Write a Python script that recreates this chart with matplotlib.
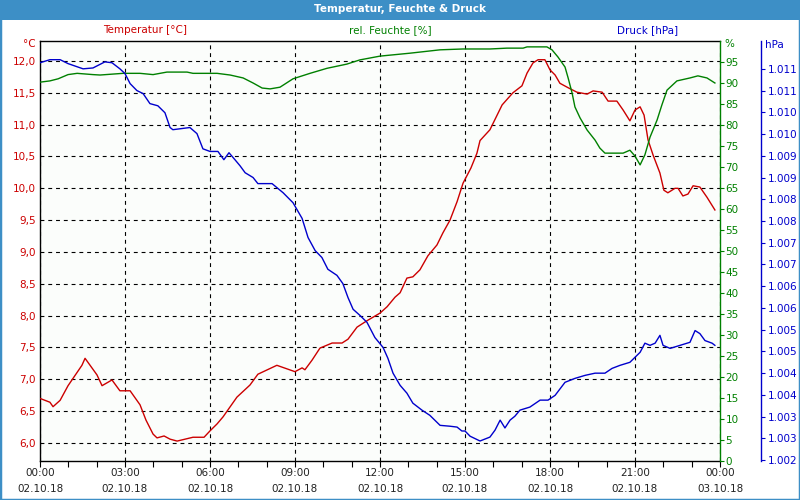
import math
import matplotlib
matplotlib.use("Agg")
import matplotlib.pyplot as plt
from matplotlib.patches import Rectangle
from matplotlib.ticker import FixedLocator, FuncFormatter, MultipleLocator

# ---------------- data ----------------
temp_hours = [0.00, 0.35, 0.46, 0.71, 0.99, 1.48, 1.59, 2.01, 2.19, 2.54, 2.82, 3.18, 3.53, 3.74,
              3.99, 4.13, 4.38, 4.59, 4.84, 5.40, 5.79, 6.00, 6.25, 6.46, 6.95, 7.41, 7.69, 8.12,
              8.36, 9.00, 9.25, 9.35, 9.60, 9.88, 10.31, 10.66, 10.87, 11.19, 11.54, 12.00, 12.25,
              12.53, 12.71, 12.95, 13.16, 13.41, 13.69, 14.01, 14.22, 14.47, 14.72, 14.93, 15.21,
              15.42, 15.53, 15.88, 16.31, 16.69, 17.01, 17.19, 17.40, 17.58, 17.82, 18.00, 18.18,
              18.35, 18.64, 18.95, 19.31, 19.52, 19.84, 20.05, 20.36, 20.58, 20.82, 21.00, 21.18,
              21.32, 21.46, 21.64, 21.88, 22.02, 22.16, 22.41, 22.52, 22.69, 22.87, 23.05, 23.29,
              23.54, 23.82]
temperature = [6.70, 6.64, 6.57, 6.67, 6.90, 7.22, 7.33, 7.07, 6.90, 6.99, 6.82, 6.82, 6.60, 6.36,
               6.14, 6.08, 6.11, 6.06, 6.03, 6.09, 6.09, 6.19, 6.30, 6.41, 6.72, 6.91, 7.08, 7.17,
               7.22, 7.12, 7.18, 7.15, 7.30, 7.49, 7.57, 7.57, 7.63, 7.82, 7.92, 8.04, 8.14,
               8.29, 8.36, 8.59, 8.61, 8.72, 8.94, 9.11, 9.30, 9.50, 9.79, 10.08, 10.32,
               10.55, 10.75, 10.92, 11.31, 11.50, 11.61, 11.81, 11.97, 12.02, 12.02, 11.86, 11.78,
               11.65, 11.58, 11.51, 11.48, 11.53, 11.51, 11.37, 11.37, 11.23, 11.06, 11.23, 11.28,
               11.15, 10.76, 10.52, 10.24, 9.97, 9.93, 10.00, 10.00, 9.88, 9.91, 10.04, 10.02,
               9.86, 9.66]

hum_hours = [0.00, 0.35, 0.64, 0.99, 1.31, 1.87, 2.12, 2.93, 3.53, 3.99, 4.48, 5.19, 5.40, 6.25,
             6.71, 7.17, 7.52, 7.84, 8.12, 8.47, 8.93, 9.53, 10.13, 10.83, 11.29, 12.00, 13.06,
             14.12, 14.93, 15.88, 16.48, 17.05, 17.19, 17.89, 18.07, 18.28, 18.53, 18.64, 18.78,
             18.88, 19.06, 19.31, 19.59, 19.76, 19.94, 20.22, 20.58, 20.82, 21.00, 21.18, 21.35,
             21.53, 21.78, 21.95, 22.13, 22.48, 22.94, 23.22, 23.54, 23.82]
humidity = [90.2, 90.5, 91.0, 92.0, 92.3, 92.0, 91.9, 92.3, 92.3, 92.0, 92.6, 92.6, 92.3, 92.3,
            91.9, 91.2, 90.0, 88.8, 88.6, 89.0, 91.0, 92.3, 93.5, 94.5, 95.5, 96.4, 97.1,
            97.9, 98.1, 98.1, 98.3, 98.3, 98.6, 98.6, 97.9, 96.2, 93.8, 91.2, 87.6,
            84.3, 81.7, 78.8, 76.4, 74.5, 73.3, 73.3, 73.3, 74.0, 72.6, 70.5, 72.9,
            77.1, 81.2, 84.8, 88.3, 90.5, 91.2, 91.7, 91.2, 90.0]

pres_hours = [0.00, 0.35, 0.71, 0.99, 1.52, 1.87, 2.29, 2.54, 2.82, 3.00, 3.18, 3.42, 3.64, 3.88,
              4.16, 4.41, 4.59, 4.69, 5.29, 5.54, 5.75, 6.00, 6.28, 6.49, 6.67, 6.88, 7.06, 7.24,
              7.52, 7.69, 8.19, 8.58, 8.93, 9.25, 9.46, 9.71, 9.95, 10.16, 10.48, 10.69, 10.87,
              11.05, 11.29, 11.54, 11.82, 12.11, 12.28, 12.46, 12.71, 12.95, 13.16, 13.48, 13.76,
              14.12, 14.47, 14.72, 14.89, 15.00, 15.18, 15.53, 15.88, 16.06, 16.24, 16.41, 16.59,
              16.76, 16.94, 17.29, 17.65, 17.93, 18.18, 18.53, 18.88, 19.24, 19.59, 19.94, 20.19,
              20.47, 20.82, 21.18, 21.35, 21.53, 21.71, 21.88, 21.99, 22.24, 22.59, 22.94, 23.12,
              23.29, 23.47, 23.72, 23.82]
pressure = [1011.14, 1011.21, 1011.21, 1011.12, 1011.00, 1011.02, 1011.16, 1011.14, 1011.00,
            1010.89, 1010.66, 1010.50, 1010.43, 1010.20, 1010.15, 1009.99, 1009.65, 1009.60,
            1009.65, 1009.51, 1009.16, 1009.10, 1009.10, 1008.91, 1009.07, 1008.91, 1008.77,
            1008.61, 1008.50, 1008.36, 1008.36, 1008.15, 1007.92, 1007.56, 1007.12, 1006.82,
            1006.66, 1006.39, 1006.25, 1006.06, 1005.74, 1005.47, 1005.33, 1005.17, 1004.82,
            1004.59, 1004.34, 1004.00, 1003.72, 1003.54, 1003.31, 1003.15, 1003.03, 1002.80,
            1002.78, 1002.76, 1002.67, 1002.67, 1002.55, 1002.44, 1002.53, 1002.69, 1002.92,
            1002.74, 1002.92, 1003.01, 1003.15, 1003.22, 1003.38, 1003.38, 1003.49, 1003.79,
            1003.88, 1003.95, 1004.00, 1004.00, 1004.11, 1004.18, 1004.25, 1004.48, 1004.69,
            1004.64, 1004.69, 1004.87, 1004.64, 1004.57, 1004.64, 1004.71, 1004.98, 1004.91,
            1004.75, 1004.69, 1004.64]

x_tick_hours = [0, 3, 6, 9, 12, 15, 18, 21, 24]
x_tick_labels = ["00:00\n02.10.18", "03:00\n02.10.18", "06:00\n02.10.18", "09:00\n02.10.18",
                 "12:00\n02.10.18", "15:00\n02.10.18", "18:00\n02.10.18", "21:00\n02.10.18",
                 "00:00\n03.10.18"]
temp_ticks = [6.0, 6.5, 7.0, 7.5, 8.0, 8.5, 9.0, 9.5, 10.0, 10.5, 11.0, 11.5, 12.0]
hum_ticks = list(range(0, 100, 5))
pres_ticks = [1002 + 0.5 * i for i in range(19)]

# ---------------- style ----------------
RED = "#cc0000"
GREEN = "#008000"
BLUE = "#0000cc"
FS = 7.5
plt.rcParams["font.family"] = ["DejaVu Sans"]

fig = plt.figure(figsize=(8, 5), dpi=100)
fig.patch.set_facecolor("white")

ax = fig.add_axes([40 / 800, 1 - 461 / 500, 680 / 800, 420 / 500])
ax.set_facecolor("#fbfdfb")
ax_h = ax.twinx()
ax_p = ax.twinx()

ax.plot(temp_hours, temperature, color=RED, lw=1.0, zorder=3)
ax_h.plot(hum_hours, humidity, color=GREEN, lw=1.0, zorder=3)
ax_p.plot(pres_hours, pressure, color=BLUE, lw=1.0, zorder=3)

ax.set_xlim(0, 24)
ax.set_ylim(5.717, 12.314)
ax_h.set_ylim(0, 100)
ax_p.set_ylim(1001.98, 1011.64)

# x axis
ax.xaxis.set_major_locator(FixedLocator(x_tick_hours))
ax.set_xticklabels(x_tick_labels, fontsize=FS, color="#222222", linespacing=1.8)
ax.xaxis.set_minor_locator(MultipleLocator(1))
ax.tick_params(axis="x", which="both", direction="out", length=4, width=0.8, color="black", pad=1)

# temperature axis
ax.yaxis.set_major_locator(FixedLocator(temp_ticks))
ax.yaxis.set_major_formatter(FuncFormatter(lambda v, p: f"{v:.1f}".replace(".", ",")))
ax.tick_params(axis="y", which="both", length=0, labelsize=FS, labelcolor=RED, pad=3)

ax.grid(True, which="major", color="black", linestyle=(0, (3.5, 3.5)), linewidth=0.8)
ax.set_axisbelow(True)

for s in ["top", "left", "bottom"]:
    ax.spines[s].set_color("black")
    ax.spines[s].set_linewidth(1.0)
ax.spines["right"].set_visible(False)

# humidity axis
ax_h.yaxis.set_major_locator(FixedLocator(hum_ticks))
ax_h.yaxis.set_major_formatter(FuncFormatter(lambda v, p: f"{int(round(v))}"))
ax_h.tick_params(axis="y", direction="out", length=3, width=0.8, color=GREEN,
                 labelsize=FS, labelcolor=GREEN, pad=1)
ax_h.spines["right"].set_color(GREEN)
ax_h.spines["right"].set_linewidth(1.0)
for s in ["top", "left", "bottom"]:
    ax_h.spines[s].set_visible(False)

# pressure axis
ax_p.spines["right"].set_position(("axes", (761 - 40) / 680))
ax_p.spines["right"].set_color(BLUE)
ax_p.spines["right"].set_linewidth(1.0)
for s in ["top", "left", "bottom"]:
    ax_p.spines[s].set_visible(False)
ax_p.yaxis.set_major_locator(FixedLocator(pres_ticks))
ax_p.yaxis.set_major_formatter(
    FuncFormatter(lambda v, p: f"{int(math.floor(v + 0.5)):,}".replace(",", ".")))
ax_p.tick_params(axis="y", direction="out", length=3, width=0.8, color=BLUE,
                 labelsize=FS, labelcolor=BLUE, pad=2)

# unit labels
fig.text(36 / 800, 1 - 44 / 500, "°C", color=RED, fontsize=FS, ha="right", va="center")
fig.text(724 / 800, 1 - 44 / 500, "%", color=GREEN, fontsize=FS, ha="left", va="center")
fig.text(765 / 800, 1 - 45 / 500, "hPa", color=BLUE, fontsize=FS, ha="left", va="center")

# header labels
fig.text(145 / 800, 1 - 30 / 500, "Temperatur [°C]", color=RED, fontsize=FS, ha="center", va="center")
fig.text(390 / 800, 1 - 30 / 500, "rel. Feuchte [%]", color=GREEN, fontsize=FS, ha="center", va="center")
fig.text(648 / 800, 1 - 30 / 500, "Druck [hPa]", color=BLUE, fontsize=FS, ha="center", va="center")

# title bar and border
fig.patches.append(Rectangle((0, 1 - 20 / 500), 1, 20 / 500, transform=fig.transFigure,
                             facecolor="#3d8fc6", edgecolor="none", zorder=0))
fig.text(0.5, 1 - 9 / 500, "Temperatur, Feuchte & Druck", color="white", fontsize=7.5,
         fontweight="bold", ha="center", va="center")
fig.patches.append(Rectangle((0, 0), 1, 1, transform=fig.transFigure, facecolor="none",
                             edgecolor="#3d8fc6", linewidth=2.5, zorder=10))

fig.savefig("out.png", dpi=100, facecolor=fig.get_facecolor())
